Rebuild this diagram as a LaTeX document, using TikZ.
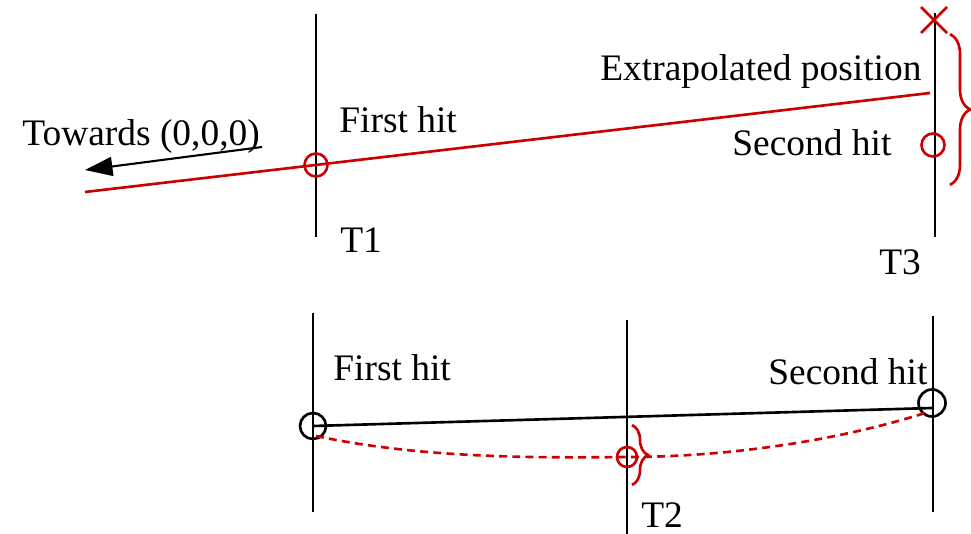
\documentclass[tikz,border=0pt]{standalone}
\usepackage{fontspec}
\setmainfont{Liberation Serif}
\usetikzlibrary{arrows.meta,calc,decorations.pathreplacing}

\definecolor{hitred}{RGB}{204,0,0}

\tikzset{
	plane/.style={black, line width=1.5pt},
	track/.style={hitred, line width=1.5pt},
	hit/.style={circle, draw, line width=1.5pt, minimum size=0.46cm, inner sep=0pt},
	label/.style={inner sep=0pt, anchor=base west, font=\fontsize{21.3}{25}\selectfont},
	bracket/.style={hitred, line width=1.5pt, decorate, decoration={brace, amplitude=#1}},
}

\begin{document}
\begin{tikzpicture}[x=0.02cm, y=-0.02cm]
	\useasboundingbox (0,0) rectangle (971,534);

	% top: first and third plane
	\coordinate (t1a) at (316,14);
	\coordinate (t1b) at (316,237);
	\coordinate (t3a) at (935,13);
	\coordinate (t3b) at (935,237);
	\draw[plane] (t1a) -- (t1b);
	\draw[plane] (t3a) -- (t3b);

	\coordinate (trackstart) at (85,192);
	\coordinate (trackend) at (930,93);
	\draw[track] (trackstart) -- (trackend);
	\node[hit, hitred] (hitone) at (316,165) {};
	\node[hit, hitred] (hittwo) at (933,145) {};

	% extrapolated point
	\coordinate (xpos) at (934,20);
	\draw[track] ($(xpos)+(-13,-13)$) -- ($(xpos)+(13,13)$);
	\draw[track] ($(xpos)+(-13,13)$) -- ($(xpos)+(13,-13)$);
	\coordinate (bracea) at (950,34);
	\coordinate (braceb) at (950,185);
	\draw[bracket=0.4cm] (bracea) -- (braceb);

	\coordinate (arrowa) at (262,147);
	\coordinate (arrowb) at (85,170);
	\draw[black, line width=1.2pt, -{Triangle[length=0.55cm, width=0.38cm]}] (arrowa) -- (arrowb);

	\node[label] (towards) at (22,145) {Towards (0,0,0)};
	\node[label] (firsttop) at (339,132) {First hit};
	\node[label] (extra) at (600,80) {Extrapolated position};
	\node[label] (secondtop) at (732,155) {Second hit};
	\node[label] (lblone) at (340,252) {T1};
	\node[label] (lblthree) at (879,274) {T3};

	% bottom: all three planes
	\coordinate (p1a) at (313,313);
	\coordinate (p1b) at (313,512);
	\coordinate (p2a) at (627,320);
	\coordinate (p2b) at (627,534);
	\coordinate (p3a) at (933,316);
	\coordinate (p3b) at (933,512);
	\draw[plane] (p1a) -- (p1b);
	\draw[plane] (p2a) -- (p2b);
	\draw[plane] (p3a) -- (p3b);

	\node[hit, minimum size=0.52cm] (hitlow) at (313,426) {};
	\node[hit, minimum size=0.54cm] (hithigh) at (932,403) {};
	\draw[plane] (hitlow.center) -- (932,408);

	\node[hit, hitred, minimum size=0.4cm] (hitmid) at (627,457) {};
	\draw[track, dash pattern=on 4.5pt off 3pt]
		(316,436) .. controls (420,458) and (530,458) .. (hitmid.center)
		.. controls (730,457) and (840,440) .. (925,413);
	\coordinate (bracec) at (632,425);
	\coordinate (braced) at (632,485);
	\draw[bracket=0.32cm] (bracec) -- (braced);

	\node[label] (firstlow) at (333,380) {First hit};
	\node[label] (secondlow) at (768,384) {Second hit};
	\node[label] (lbltwo) at (641,527) {T2};
\end{tikzpicture}
\end{document}
